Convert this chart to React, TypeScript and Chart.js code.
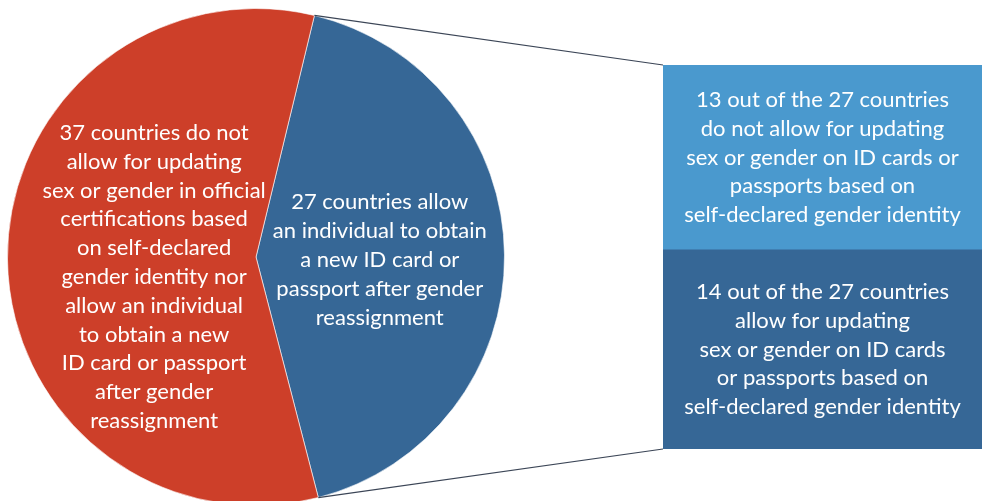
import React, { useEffect, useRef } from "react";
import { Chart, registerables } from "chart.js";

Chart.register(...registerables);

// ---- data ----
const pieCategories = [
  "Allow new ID card or passport after gender reassignment",
  "Do not allow updating sex or gender",
];
const pieValues = [27, 37];
const pieColors = ["#366796", "#CD3F29"];

const barCategories = ["Allow self-declared updating", "Do not allow self-declared updating"];
const barValues = [14, 13];
const barColors = ["#366796", "#4A99CE"];

const pieLabelLines = [
  ["27 countries allow", "an individual to obtain", "a new ID card or", "passport after gender", "reassignment"],
  [
    "37 countries do not",
    "allow for updating",
    "sex or gender in official",
    "certifications based",
    "on self-declared",
    "gender identity nor",
    "allow an individual",
    "to obtain a new",
    "ID card or passport",
    "after gender",
    "reassignment",
  ],
];
const barLabelLines = [
  ["14 out of the 27 countries", "allow for updating", "sex or gender on ID cards", "or passports based on", "self-declared gender identity"],
  ["13 out of the 27 countries", "do not allow for updating", "sex or gender on ID cards or", "passports based on", "self-declared gender identity"],
];

const FONT = "22px Lato, 'Open Sans', sans-serif";
const LINE_H = 28.8;
// label centre offsets relative to pie centre, as fractions of radius
const pieLabelOffsets = [
  { dx: 0.498, dy: 0.012 },
  { dx: -0.41, dy: 0.08 },
];

function drawLines(ctx: CanvasRenderingContext2D, lines: string[], cx: number, cy: number) {
  ctx.save();
  ctx.font = FONT;
  ctx.fillStyle = "#ffffff";
  ctx.textAlign = "center";
  ctx.textBaseline = "middle";
  const n = lines.length;
  lines.forEach((l, i) => {
    ctx.fillText(l, cx, cy + (i - (n - 1) / 2) * LINE_H);
  });
  ctx.restore();
}

export default function App() {
  const pieRef = useRef<HTMLCanvasElement | null>(null);
  const barRef = useRef<HTMLCanvasElement | null>(null);
  const barDivRef = useRef<HTMLDivElement | null>(null);

  useEffect(() => {
    if (!pieRef.current || !barRef.current) return;

    const barLabelPlugin = {
      id: "barLabels",
      afterDraw(chart: any) {
        const ctx = chart.ctx;
        chart.data.datasets.forEach((_: any, di: number) => {
          const el = chart.getDatasetMeta(di).data[0];
          drawLines(ctx, barLabelLines[di], el.x, (el.y + el.base) / 2);
        });
      },
    };

    const barChart = new Chart(barRef.current, {
      type: "bar",
      data: {
        labels: [""],
        datasets: barValues.map((v, i) => ({
          label: barCategories[i],
          data: [v],
          backgroundColor: barColors[i],
          borderWidth: 0,
          barPercentage: 1,
          categoryPercentage: 1,
        })),
      },
      options: {
        animation: false,
        responsive: true,
        maintainAspectRatio: false,
        layout: { padding: 0 },
        plugins: { legend: { display: false }, tooltip: { enabled: false } },
        scales: {
          x: { stacked: true, display: false },
          y: { stacked: true, display: false, min: 0, max: 27 },
        },
      },
      plugins: [barLabelPlugin],
    });

    const pieLabelPlugin = {
      id: "pieLabels",
      afterDraw(chart: any) {
        const ctx = chart.ctx;
        const arcs = chart.getDatasetMeta(0).data;
        arcs.forEach((arc: any, i: number) => {
          const r = arc.outerRadius;
          drawLines(ctx, pieLabelLines[i], arc.x + pieLabelOffsets[i].dx * r, arc.y + pieLabelOffsets[i].dy * r);
        });
        // connector lines from the blue slice to the bar
        const a = arcs[0];
        const p1 = { x: a.x + a.outerRadius * Math.cos(a.startAngle), y: a.y + a.outerRadius * Math.sin(a.startAngle) };
        const p2 = { x: a.x + a.outerRadius * Math.cos(a.endAngle), y: a.y + a.outerRadius * Math.sin(a.endAngle) };
        const div = barDivRef.current;
        const offX = div ? div.offsetLeft : 0;
        const offY = div ? div.offsetTop : 0;
        const top = barChart.getDatasetMeta(1).data[0] as any;
        const bot = barChart.getDatasetMeta(0).data[0] as any;
        const left = offX + top.x - top.width / 2;
        ctx.save();
        ctx.strokeStyle = "#3b4556";
        ctx.lineWidth = 1.2;
        ctx.beginPath();
        ctx.moveTo(p1.x, p1.y);
        ctx.lineTo(left, offY + top.y);
        ctx.moveTo(p2.x, p2.y);
        ctx.lineTo(left, offY + bot.base);
        ctx.stroke();
        ctx.restore();
      },
    };

    const pieChart = new Chart(pieRef.current, {
      type: "pie",
      data: {
        labels: pieCategories,
        datasets: [
          {
            data: pieValues,
            backgroundColor: pieColors,
            borderWidth: 1,
            borderColor: "rgba(255,255,255,0.6)",
          },
        ],
      },
      options: {
        animation: false,
        responsive: true,
        maintainAspectRatio: false,
        rotation: 13.6,
        layout: { padding: { left: 7, top: 8, right: 477, bottom: 14 } },
        plugins: { legend: { display: false }, tooltip: { enabled: false } },
      },
      plugins: [pieLabelPlugin],
    });

    return () => {
      pieChart.destroy();
      barChart.destroy();
    };
  }, []);

  return (
    <div style={{ position: "fixed", left: 0, top: 0, width: 982, height: 501, overflow: "hidden", background: "#fff" }}>
      <div style={{ position: "absolute", left: 0, top: 0, width: 982, height: 520 }}>
        <canvas ref={pieRef} />
      </div>
      <div ref={barDivRef} style={{ position: "absolute", left: 663, top: 65, width: 319, height: 384 }}>
        <canvas ref={barRef} />
      </div>
    </div>
  );
}
